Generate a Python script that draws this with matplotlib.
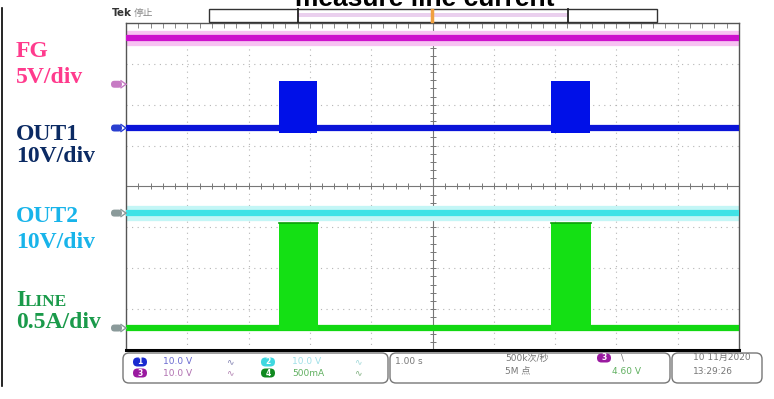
import numpy as np
import matplotlib
matplotlib.use("Agg")
import matplotlib.pyplot as plt
from matplotlib.patches import FancyBboxPatch, Rectangle

# ---------------- data (screen divisions, 1.00 s/div) ----------------
t_start, t_end = 0.0, 10.0

fg_level = 3.63            # FG, 5V/div, stays high
out2_level = -0.65         # OUT2, 10V/div, stays high

out1_base = 1.43           # OUT1, 10V/div
out1_top = 2.59
out1_on = [2.49, 6.94]
out1_off = [3.11, 7.57]

iline_base = -3.46         # ILINE, 0.5A/div
iline_top = -0.89
iline_on = [2.49, 6.94]
iline_off = [3.13, 7.59]

# ground markers on the left edge (divisions)
marker_pos = [2.50, 1.43, -0.65, -3.46]
marker_col = ["#c77bc4", "#2a3fd0", "#8a9a9a", "#8a9a9a"]

side_labels = [("FG", "5V/div", "#ff3b8d", 57, 83),
               ("OUT1", "10V/div", "#0b2a63", 140, 162),
               ("OUT2", "10V/div", "#18b4ea", 222, 248)]

W, H = 774, 399
fig = plt.figure(figsize=(W / 100, H / 100), dpi=100)
fig.patch.set_facecolor("white")

# scope screen: 10 x 8 divisions
x0, x1, y0, y1 = 126, 739, 23, 350
ax = fig.add_axes([x0 / W, 1 - y1 / H, (x1 - x0) / W, (y1 - y0) / H])
ax.set_xlim(t_start, t_end)
ax.set_ylim(-4, 4)
ax.set_xticks([])
ax.set_yticks([])
for s in ax.spines.values():
    s.set_color("#555555")
    s.set_linewidth(1.0)
ax.spines["bottom"].set_color("black")
ax.spines["bottom"].set_linewidth(2.2)

for gx in range(1, 10):
    if gx != 5:
        ax.axvline(gx, color="#b5b5b5", lw=0.8, ls=(0, (1, 4)), zorder=0)
for gy in range(-3, 4):
    if gy != 0:
        ax.axhline(gy, color="#b5b5b5", lw=0.8, ls=(0, (1, 4)), zorder=0)
ax.axvline(5, color="#777777", lw=0.8, zorder=0)
ax.axhline(0, color="#777777", lw=0.8, zorder=0)
minor_x = np.arange(0.2, 10, 0.2)
minor_y = np.arange(-3.8, 4, 0.2)
ax.plot(minor_x, np.zeros_like(minor_x), "|", color="#777777", ms=5, mew=0.7, zorder=0)
ax.plot(np.full_like(minor_y, 5), minor_y, "_", color="#777777", ms=5, mew=0.7, zorder=0)
ax.plot(minor_x, np.full_like(minor_x, 3.96), "|", color="#888888", ms=4, mew=0.7, zorder=0)


def step_trace(base, top, ons, offs):
    xs, ys = [t_start], [base]
    for a, b in zip(ons, offs):
        xs += [a, a, b, b]
        ys += [base, top, top, base]
    xs.append(t_end)
    ys.append(base)
    return np.array(xs), np.array(ys)


# FG (magenta with pink halo)
ax.plot([t_start, t_end], [fg_level, fg_level], color="#f7c2f2", lw=11, solid_capstyle="butt", zorder=2)
ax.plot([t_start, t_end], [fg_level, fg_level], color="#cc10cc", lw=4.5, solid_capstyle="butt", zorder=3)

# OUT1 (blue)
ax.plot([t_start, t_end], [out1_base, out1_base], color="#0a14d8", lw=4.5, solid_capstyle="butt", zorder=3)
for a, b in zip(out1_on, out1_off):
    ax.fill_between([a, b], out1_base - 0.12, out1_top, color="#0010e8", lw=0, zorder=3)

# OUT2 (cyan with halo)
ax.plot([t_start, t_end], [out2_level, out2_level], color="#c4f6f6", lw=11, solid_capstyle="butt", zorder=2)
ax.plot([t_start, t_end], [out2_level, out2_level], color="#3fe2e6", lw=4.5, solid_capstyle="butt", zorder=3)

# ILINE (green)
ax.plot([t_start, t_end], [iline_base, iline_base], color="#12d812", lw=4.5, solid_capstyle="butt", zorder=3)
for a, b in zip(iline_on, iline_off):
    ax.fill_between([a, b], iline_base - 0.05, iline_top, color="#14e014", lw=0, zorder=3)
    ax.plot([a, b], [iline_top, iline_top], color="#0aa00a", lw=1.2, zorder=4)

# ---------------- overlay in pixel coordinates ----------------
ov = fig.add_axes([0, 0, 1, 1], zorder=5)
ov.set_xlim(0, W)
ov.set_ylim(H, 0)
ov.axis("off")
ov.patch.set_alpha(0)

cjk = ["DejaVu Sans", "Noto Sans CJK SC"]

# title, cut at the top
ov.text(425, 6, "measure line current", ha="center", va="baseline",
        fontsize=19, fontweight="bold", family="Liberation Sans", color="black")

# left rule
ov.plot([2, 2], [8, 386], color="black", lw=1.2)

# Tek header and trigger-position bar
ov.text(112, 13, "Tek", fontsize=7.5, fontweight="bold", color="#333333", va="center", family=cjk)
ov.text(134, 13, "停止", fontsize=7, color="#888888", va="center", family=cjk)
ov.add_patch(Rectangle((209, 9), 448, 13, facecolor="white", edgecolor="#333333", lw=1))
ov.add_patch(Rectangle((298, 13), 270, 4, facecolor="#ead0ee", edgecolor="none"))
ov.plot([298, 298], [9, 22], color="#222222", lw=1.3)
ov.plot([568, 568], [9, 22], color="#222222", lw=1.3)
ov.plot([432, 432], [10, 21], color="#f0a040", lw=2.5)

# channel ground markers
for pos, col in zip(marker_pos, marker_col):
    py = 186.5 - pos * 40.9
    ov.add_patch(FancyBboxPatch((111, py - 3.5), 11, 7, boxstyle="round,pad=0,rounding_size=3.5",
                                facecolor=col, edgecolor="none"))
    ov.plot([121, 126], [py - 3.5, py], color=col, lw=1)
    ov.plot([121, 126], [py + 3.5, py], color=col, lw=1)

# side labels
for name, scale, col, yb1, yb2 in side_labels:
    ov.text(16, yb1, name, fontsize=17, fontweight="bold", family="Liberation Serif",
            color=col, va="baseline")
    ov.text(16, yb2, scale, fontsize=17, fontweight="bold", family="Liberation Serif",
            color=col, va="baseline")
ov.text(16, 306, "I", fontsize=17, fontweight="bold", family="Liberation Serif",
        color="#1a9a4a", va="baseline")
ov.text(25, 306, "LINE", fontsize=12.5, fontweight="bold", family="Liberation Serif",
        color="#1a9a4a", va="baseline")
ov.text(16, 328, "0.5A/div", fontsize=17, fontweight="bold", family="Liberation Serif",
        color="#1a9a4a", va="baseline")

# status bar boxes
for bx, bw in [(123, 265), (390, 280), (672, 90)]:
    ov.add_patch(FancyBboxPatch((bx, 353), bw, 30, boxstyle="round,pad=0,rounding_size=6",
                                facecolor="white", edgecolor="#777777", lw=1))


def badge(x, y, num, col):
    ov.add_patch(FancyBboxPatch((x - 7, y - 4.5), 14, 9, boxstyle="round,pad=0,rounding_size=4.5",
                                facecolor=col, edgecolor="none"))
    ov.text(x, y, num, fontsize=5.5, color="white", ha="center", va="center", fontweight="bold")


badge(140, 362, "1", "#1a2ad0")
badge(140, 373, "3", "#9a1aa0")
badge(268, 362, "2", "#40d8e0")
badge(268, 373, "4", "#108a20")
sfont = dict(fontsize=6.5, va="center", family=cjk)
ov.text(163, 362, "10.0 V", color="#6a6ad0", **sfont)
ov.text(163, 373, "10.0 V", color="#b070b0", **sfont)
ov.text(226, 362, "∿", color="#8080b0", **sfont)
ov.text(226, 373, "∿", color="#b080b0", **sfont)
ov.text(292, 362, "10.0 V", color="#a0e0e8", **sfont)
ov.text(292, 373, "500mA", color="#60b060", **sfont)
ov.text(354, 362, "∿", color="#a0d8d8", **sfont)
ov.text(354, 373, "∿", color="#80b080", **sfont)
ov.text(395, 361, "1.00 s", color="#777777", **sfont)
ov.text(505, 358, "500k次/秒", color="#777777", **sfont)
ov.text(505, 371, "5M 点", color="#777777", **sfont)
badge(604, 358, "3", "#9a1aa0")
ov.text(621, 358, "\\", color="#777777", **sfont)
ov.text(612, 371, "4.60 V", color="#60b060", **sfont)
ov.text(693, 357, "10 11月2020", color="#777777", **sfont)
ov.text(693, 371, "13:29:26", color="#777777", **sfont)

fig.savefig("out.png", dpi=100, facecolor="white")
